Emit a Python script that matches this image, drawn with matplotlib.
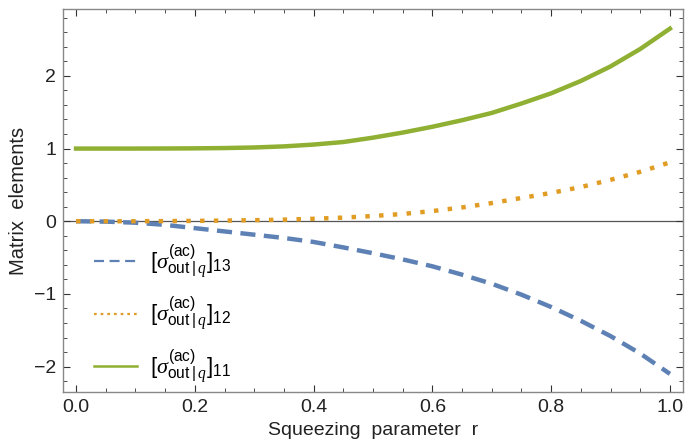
import matplotlib
matplotlib.use("Agg")
import matplotlib.pyplot as plt
from matplotlib.ticker import MultipleLocator

plt.rcParams['font.family'] = ['Liberation Sans', 'DejaVu Sans']
plt.rcParams['mathtext.fontset'] = 'custom'
plt.rcParams['mathtext.rm'] = 'Liberation Sans'
plt.rcParams['mathtext.it'] = 'Liberation Serif:italic'
plt.rcParams['axes.unicode_minus'] = True

# Data
r = [0.0, 0.05, 0.1, 0.15, 0.2, 0.25, 0.3, 0.35, 0.4, 0.45, 0.5,
     0.55, 0.6, 0.65, 0.7, 0.75, 0.8, 0.85, 0.9, 0.95, 1.0]
m13 = [0.0, -0.005, -0.02, -0.05, -0.095, -0.14, -0.185, -0.23, -0.285, -0.36, -0.44,
       -0.525, -0.62, -0.735, -0.86, -1.01, -1.18, -1.37, -1.58, -1.82, -2.10]
m12 = [0.0, 0.0, 0.0, 0.002, 0.005, 0.009, 0.014, 0.022, 0.034, 0.05, 0.072,
       0.10, 0.14, 0.19, 0.25, 0.32, 0.39, 0.47, 0.57, 0.68, 0.81]
m11 = [1.0, 1.0, 1.0, 1.001, 1.003, 1.007, 1.015, 1.03, 1.055, 1.09, 1.15,
       1.22, 1.30, 1.39, 1.49, 1.62, 1.76, 1.93, 2.13, 2.37, 2.65]

labels = [r'$[\sigma^{\mathrm{(ac)}}_{\mathrm{out}\;|\,q}]_{13}$',
          r'$[\sigma^{\mathrm{(ac)}}_{\mathrm{out}\;|\,q}]_{12}$',
          r'$[\sigma^{\mathrm{(ac)}}_{\mathrm{out}\;|\,q}]_{11}$']
xticks = [0.0, 0.2, 0.4, 0.6, 0.8, 1.0]
yticks = [-2, -1, 0, 1, 2]

c_blue = '#5E81B5'
c_orange = '#E19C24'
c_green = '#8FB032'

fig = plt.figure(figsize=(7.0, 4.44), dpi=100)
ax = fig.add_axes([0.09, 0.117, 0.8857, 0.8627])

ax.axhline(0, color='#555555', lw=0.9, zorder=1)

lw = 3.2
l13, = ax.plot(r, m13, color=c_blue, lw=lw, dashes=(3.4, 1.9), zorder=3)
l12, = ax.plot(r, m12, color=c_orange, lw=lw, dashes=(1.0, 2.1), zorder=3)
l11, = ax.plot(r, m11, color=c_green, lw=lw, zorder=3)
l12.set_dash_capstyle('butt')
l13.set_dash_capstyle('butt')

ax.set_xlim(-0.022, 1.022)
ax.set_ylim(-2.35, 2.92)
ax.set_xticks(xticks)
ax.set_xticklabels([f'{v:.1f}' for v in xticks])
ax.set_yticks(yticks)
ax.set_yticklabels(['\u22122', '\u22121', '0', '1', '2'])
ax.xaxis.set_minor_locator(MultipleLocator(0.05))
ax.yaxis.set_minor_locator(MultipleLocator(0.2))

ax.tick_params(which='both', direction='in', top=True, right=True,
               labeltop=False, labelright=False, color='#333333')
ax.tick_params(which='major', length=5, width=0.8, labelsize=14, labelcolor='#222222', pad=5)
ax.tick_params(which='minor', length=3, width=0.6)
for s in ax.spines.values():
    s.set_color('#888888')
    s.set_linewidth(1.0)

ax.set_xlabel('Squeezing  parameter  r', fontsize=14, color='#222222', labelpad=4)
ax.set_ylabel('Matrix  elements', fontsize=14.5, color='#222222', labelpad=4)

leg_handles = [
    plt.Line2D([], [], color=c_blue, lw=1.6, dashes=(4.5, 2.5)),
    plt.Line2D([], [], color=c_orange, lw=1.6, dashes=(1.2, 1.8)),
    plt.Line2D([], [], color=c_green, lw=1.8),
]
ax.legend(leg_handles, labels, loc='upper left', bbox_to_anchor=(0.035, 0.415),
          frameon=False, fontsize=16, handlelength=1.95, handletextpad=0.6,
          labelspacing=0.62, borderaxespad=0)

fig.savefig('out.png', dpi=100)
